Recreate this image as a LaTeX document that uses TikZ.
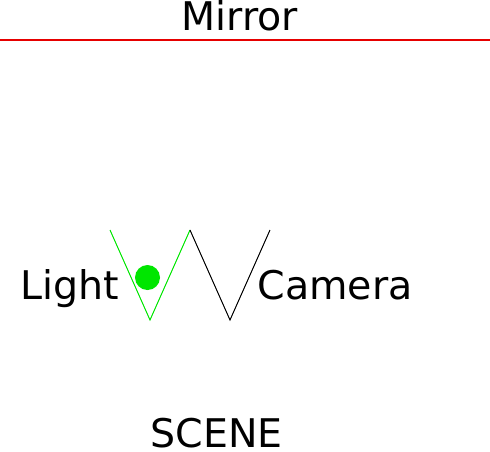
\documentclass[tikz,border=0pt]{standalone}
\usepackage{fontspec}
\setmainfont{DejaVu Sans}
\tikzset{every picture/.style={line width=0.75pt}}
\tikzset{
  lbl/.style={anchor=base,inner sep=0pt,font=\fontsize{39.5}{41}\selectfont},
  greenv/.style={draw={rgb, 255:red, 0; green, 230; blue, 0},line width=1pt},
  blackv/.style={draw=black,line width=1pt}
}

\begin{document}
\begin{tikzpicture}[x=1pt,y=1pt,yscale=-1,xscale=1]
		\useasboundingbox (0,0) rectangle (490,451);
		
		%Straight Lines [id:mirror]
		\draw [color={rgb, 255:red, 230; green, 0; blue, 0 },line width=1.6] (0,40) -- (490,40) ;
		%Shape: Light V
		\draw [greenv] (110,230) -- (150,320) -- (190,230) ;
		%Shape: Camera V
		\draw [blackv] (190,230) -- (230,320) -- (270,230) ;
		%Shape: Circle
		\fill [color={rgb, 255:red, 0; green, 230; blue, 0 }] (147.5,277.5) circle (12.5) ;
		
		% Text Node
		\node [lbl] (mirror) at (240,30) {Mirror};
		% Text Node
		\node [lbl] (light) at (70,299.5) {Light};
		% Text Node
		\node [lbl] (camera) at (335,299.5) {Camera};
		% Text Node
		\node [lbl,text depth=0pt] (scene) at (216.5,447) {SCENE};
		
\end{tikzpicture}
\end{document}
